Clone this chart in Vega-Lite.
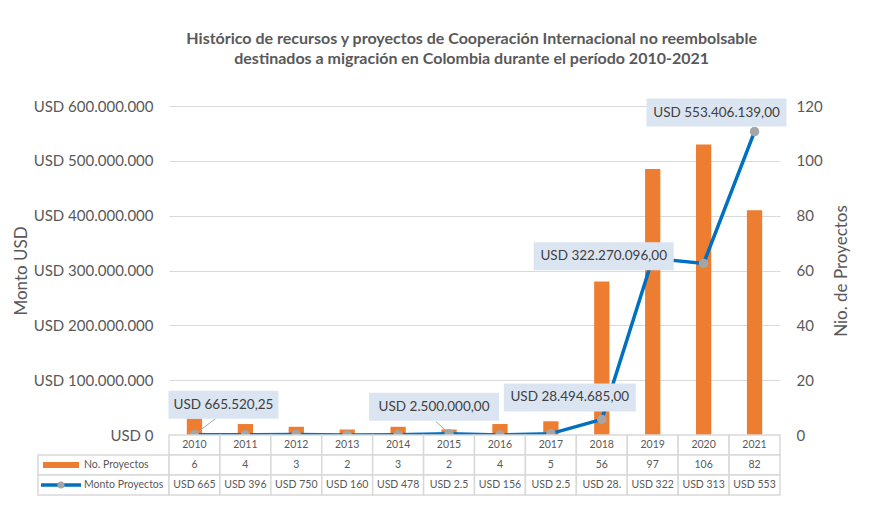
{
  "$schema": "https://vega.github.io/schema/vega-lite/v6.json",
  "datasets": {
    "d": [
      {"year": 2010, "n": 6, "monto": 665520.25, "montoTabla": "USD 665"},
      {"year": 2011, "n": 4, "monto": 396000, "montoTabla": "USD 396"},
      {"year": 2012, "n": 3, "monto": 750000, "montoTabla": "USD 750"},
      {"year": 2013, "n": 2, "monto": 160000, "montoTabla": "USD 160"},
      {"year": 2014, "n": 3, "monto": 478000, "montoTabla": "USD 478"},
      {"year": 2015, "n": 2, "monto": 2500000, "montoTabla": "USD 2.5"},
      {"year": 2016, "n": 4, "monto": 156000, "montoTabla": "USD 156"},
      {"year": 2017, "n": 5, "monto": 2500000, "montoTabla": "USD 2.5"},
      {"year": 2018, "n": 56, "monto": 28494685, "montoTabla": "USD 28."},
      {"year": 2019, "n": 97, "monto": 322270096, "montoTabla": "USD 322"},
      {"year": 2020, "n": 106, "monto": 313000000, "montoTabla": "USD 313"},
      {"year": 2021, "n": 82, "monto": 553406139, "montoTabla": "USD 553"}
    ],
    "leyenda": [
      {"fila": "n", "serie": "No. Proyectos"},
      {"fila": "montoTabla", "serie": "Monto Proyectos"}
    ]
  },
  "data": {"name": "d"},
  "title": {
    "text": ["Histórico de recursos y proyectos de Cooperación Internacional no reembolsable", "destinados a migración en Colombia durante el período 2010-2021"],
    "fontSize": 16, "font": "Lato", "fontWeight": "bold", "color": "#595959",
    "anchor": "middle", "offset": 32, "lineHeight": 20, "dx": 41
  },
  "padding": {"left": 12, "top": 30, "right": 10, "bottom": 3},
  "columns": 2,
  "spacing": 0,
  "bounds": "flush",
  "concat": [
    {
      "width": 131, "height": 329,
      "mark": {"type": "text"},
      "encoding": {"text": {"value": ""}}
    },
    {
      "width": 611, "height": 329,
      "layer": [
        {
          "mark": {"type": "bar", "color": "#ed7d31", "width": {"band": 0.3}},
          "encoding": {
            "x": {"field": "year", "type": "ordinal", "axis": null, "scale": {"paddingInner": 0, "paddingOuter": 0}},
            "y": {"field": "n", "type": "quantitative", "scale": {"domain": [0, 120]},
              "axis": {"orient": "right", "title": "Nio. de Proyectos", "values": [0, 20, 40, 60, 80, 100, 120], "grid": false,
                "ticks": false, "domain": false, "labelFontSize": 15, "labelColor": "#595959", "labelPadding": 16,
                "titleFontSize": 17, "titleFontWeight": "normal", "titleColor": "#595959", "titleAngle": 270, "titlePadding": 28}}
          }
        },
        {
          "encoding": {
            "x": {"field": "year", "type": "ordinal", "axis": null, "scale": {"paddingInner": 0, "paddingOuter": 0}},
            "y": {"field": "monto", "type": "quantitative", "scale": {"domain": [0, 600000000]},
              "axis": {"orient": "left", "title": "Monto USD", "values": [0, 100000000, 200000000, 300000000, 400000000, 500000000, 600000000],
                "format": "$,.0f", "grid": true, "gridColor": "#d9d9d9", "gridWidth": 1.2,
                "ticks": false, "domain": false, "labelFontSize": 15, "labelColor": "#595959", "labelPadding": 16,
                "titleFontSize": 17, "titleFontWeight": "normal", "titleColor": "#595959", "titlePadding": 3}}
          },
          "layer": [
            {"mark": {"type": "line", "color": "#0070c0", "strokeWidth": 3.5}},
            {"mark": {"type": "point", "filled": true, "color": "#a5a5a5", "opacity": 1, "size": 90}},
            {"transform": [{"filter": "datum.year == 2010"}],
             "mark": {"type": "point", "shape": "M0,0L21,-16", "size": 4, "filled": false, "stroke": "#a6a6a6", "strokeWidth": 1, "opacity": 1}},
            {"transform": [{"filter": "datum.year == 2015"}],
             "mark": {"type": "point", "shape": "M0,0L-13,-12", "size": 4, "filled": false, "stroke": "#a6a6a6", "strokeWidth": 1, "opacity": 1}},
            {"transform": [{"filter": "datum.year == 2010"}],
             "mark": {"type": "point", "shape": "M-55,-14H55V14H-55Z", "size": 4, "filled": true, "color": "#dbe5f1", "opacity": 1, "xOffset": 29, "yOffset": -30}},
            {"transform": [{"filter": "datum.year == 2010"}],
             "mark": {"type": "text", "fontSize": 13.5, "color": "#404040", "dx": 29, "dy": -30, "baseline": "middle"},
             "encoding": {"text": {"field": "monto", "type": "quantitative", "format": "$,.2f"}}},
            {"transform": [{"filter": "datum.year == 2015"}],
             "mark": {"type": "point", "shape": "M-65,-14H65V14H-65Z", "size": 4, "filled": true, "color": "#dbe5f1", "opacity": 1, "xOffset": -15, "yOffset": -27}},
            {"transform": [{"filter": "datum.year == 2015"}],
             "mark": {"type": "text", "fontSize": 13.5, "color": "#404040", "dx": -15, "dy": -27, "baseline": "middle"},
             "encoding": {"text": {"field": "monto", "type": "quantitative", "format": "$,.2f"}}},
            {"transform": [{"filter": "datum.year == 2018"}],
             "mark": {"type": "point", "shape": "M-66,-14H66V14H-66Z", "size": 4, "filled": true, "color": "#dbe5f1", "opacity": 1, "xOffset": -32, "yOffset": -22}},
            {"transform": [{"filter": "datum.year == 2018"}],
             "mark": {"type": "text", "fontSize": 13.5, "color": "#404040", "dx": -32, "dy": -22, "baseline": "middle"},
             "encoding": {"text": {"field": "monto", "type": "quantitative", "format": "$,.2f"}}},
            {"transform": [{"filter": "datum.year == 2019"}],
             "mark": {"type": "point", "shape": "M-70,-14H70V14H-70Z", "size": 4, "filled": true, "color": "#dbe5f1", "opacity": 1, "xOffset": -49, "yOffset": -2}},
            {"transform": [{"filter": "datum.year == 2019"}],
             "mark": {"type": "text", "fontSize": 13.5, "color": "#404040", "dx": -49, "dy": -2, "baseline": "middle"},
             "encoding": {"text": {"field": "monto", "type": "quantitative", "format": "$,.2f"}}},
            {"transform": [{"filter": "datum.year == 2021"}],
             "mark": {"type": "point", "shape": "M-70,-14H70V14H-70Z", "size": 4, "filled": true, "color": "#dbe5f1", "opacity": 1, "xOffset": -38, "yOffset": -19}},
            {"transform": [{"filter": "datum.year == 2021"}],
             "mark": {"type": "text", "fontSize": 13.5, "color": "#404040", "dx": -38, "dy": -19, "baseline": "middle"},
             "encoding": {"text": {"field": "monto", "type": "quantitative", "format": "$,.2f"}}}
          ]
        }
      ],
      "resolve": {"scale": {"y": "independent"}}
    },
    {
      "width": 131, "height": 60,
      "data": {"name": "leyenda"},
      "encoding": {
        "y": {"field": "fila", "type": "nominal", "axis": null, "scale": {"domain": ["year", "n", "montoTabla"], "paddingInner": 0, "paddingOuter": 0}}
      },
      "layer": [
        {"mark": {"type": "rect", "fill": "white", "stroke": "#d9d9d9", "strokeWidth": 1.5}},
        {"transform": [{"filter": "datum.fila == 'n'"}],
         "mark": {"type": "point", "shape": "M-18,-3H18V3H-18Z", "size": 4, "filled": true, "color": "#ed7d31", "opacity": 1, "xOffset": -42.5}},
        {"transform": [{"filter": "datum.fila == 'montoTabla'"}],
         "mark": {"type": "point", "shape": "M-20,-1.8H20V1.8H-20Z", "size": 4, "filled": true, "color": "#0070c0", "opacity": 1, "xOffset": -42.5}},
        {"transform": [{"filter": "datum.fila == 'montoTabla'"}],
         "mark": {"type": "circle", "size": 50, "color": "#a5a5a5", "opacity": 1, "xOffset": -42.5}},
        {"mark": {"type": "text", "align": "left", "dx": -19.5, "fontSize": 10.5, "color": "#595959"},
         "encoding": {"text": {"field": "serie", "type": "nominal"}}}
      ]
    },
    {
      "width": 611, "height": 60,
      "transform": [{"fold": ["year", "n", "montoTabla"], "as": ["fila", "valor"]}],
      "encoding": {
        "x": {"field": "year", "type": "ordinal", "axis": null, "scale": {"paddingInner": 0, "paddingOuter": 0}},
        "y": {"field": "fila", "type": "nominal", "axis": null, "scale": {"domain": ["year", "n", "montoTabla"], "paddingInner": 0, "paddingOuter": 0}}
      },
      "layer": [
        {"mark": {"type": "rect", "fill": "white", "stroke": "#d9d9d9", "strokeWidth": 1.5}},
        {"mark": {"type": "text", "fontSize": 10.5, "color": "#595959"},
         "encoding": {"text": {"field": "valor", "type": "nominal"}}}
      ]
    }
  ],
  "config": {
    "view": {"stroke": null},
    "font": "Lato",
    "locale": {"number": {"decimal": ",", "thousands": ".", "grouping": [3], "currency": ["USD ", ""]}}
  }
}
